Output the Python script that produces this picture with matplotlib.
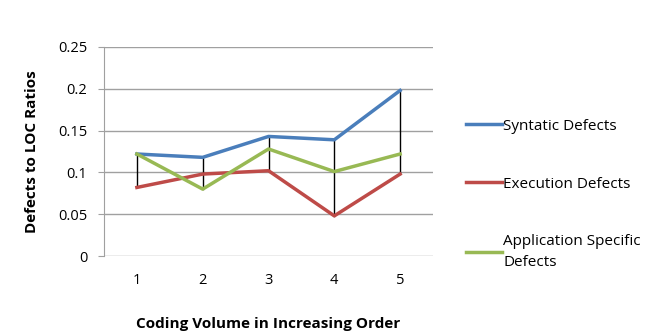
import matplotlib
matplotlib.use('Agg')
import matplotlib.pyplot as plt

plt.rcParams['font.family'] = ['Open Sans', 'DejaVu Sans']

volumes = [1, 2, 3, 4, 5]
syntatic = [0.122, 0.118, 0.143, 0.139, 0.198]
execution = [0.082, 0.098, 0.102, 0.048, 0.098]
app_specific = [0.122, 0.080, 0.128, 0.101, 0.122]
yticks = [0, 0.05, 0.1, 0.15, 0.2, 0.25]
ytick_labels = ['0', '0.05', '0.1', '0.15', '0.2', '0.25']

fig = plt.figure(figsize=(6.61, 3.33), dpi=100)
ax = fig.add_axes([104 / 661, 1 - 256 / 333, 329 / 661, 209 / 333])

# high-low lines between the three series
for x, a, b, c in zip(volumes, syntatic, execution, app_specific):
    ax.plot([x, x], [min(a, b, c), max(a, b, c)], color='black', lw=1, zorder=3)

ax.plot(volumes, syntatic, color='#4a7ebb', lw=2.5, label='Syntatic Defects', zorder=4)
ax.plot(volumes, execution, color='#be4b48', lw=2.5, label='Execution Defects', zorder=4)
ax.plot(volumes, app_specific, color='#98b954', lw=2.5,
        label='Application Specific\nDefects', zorder=4)

ax.set_xlim(0.5, 5.5)
ax.set_ylim(0, 0.25)
ax.set_xticks(volumes)
ax.set_yticks(yticks)
ax.set_yticklabels(ytick_labels)
ax.yaxis.grid(True, color='#a0a0a0', lw=1)
ax.set_axisbelow(True)
for side in ['top', 'right', 'bottom']:
    ax.spines[side].set_visible(False)
ax.spines['left'].set_color('#a0a0a0')
ax.tick_params(axis='both', length=0, labelsize=10.5, pad=12)
ax.tick_params(axis='y', length=4, color='#a0a0a0', pad=8)

ax.set_xlabel('Coding Volume in Increasing Order', fontsize=11, fontweight='bold', labelpad=21)
ax.set_ylabel('Defects to LOC Ratios', fontsize=11, fontweight='bold', labelpad=14)

leg = ax.legend(loc='center left', bbox_to_anchor=(1.06, 0.295), frameon=False, fontsize=11,
                handlelength=2.3, handletextpad=0.1, labelspacing=2.8)
for t in leg.get_texts():
    t.set_linespacing(1.5)

fig.savefig('out.png', dpi=100)
